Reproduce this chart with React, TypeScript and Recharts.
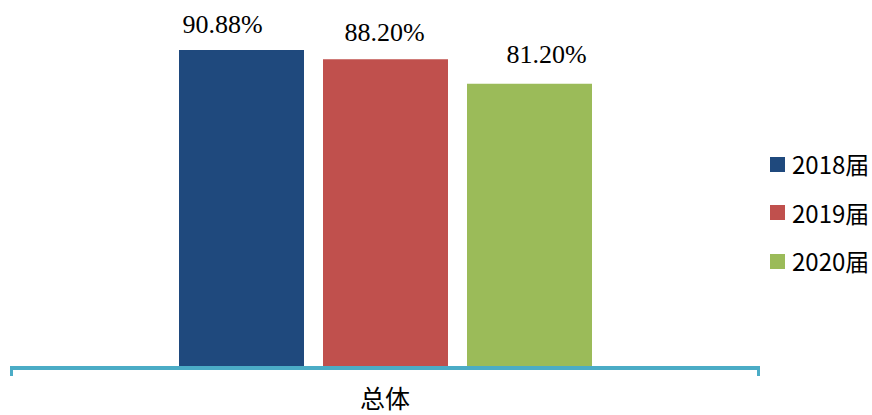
import React from 'react';
import { BarChart, Bar, XAxis, YAxis, Legend, LabelList } from 'recharts';

// 类别与各届数值（%）
const categories = ['总体'];
const seriesNames = ['2018届', '2019届', '2020届'];
const values2018 = [90.88];
const values2019 = [88.2];
const values2020 = [81.2];

const COLORS = ['#1F497D', '#C0504D', '#9BBB59'];
const AXIS_COLOR = '#4BACC6';
const TICK_MARGIN = 22;

const data = categories.map((name, i) => ({
  name,
  s2018: values2018[i],
  s2019: values2019[i],
  s2020: values2020[i],
}));

const seriesKeys = ['s2018', 's2019', 's2020'];
// 标签的水平偏移（与原图一致）
const labelDx = [-19, -1, 17];
const labelOffset = [17, 18, 21];

const LegendContent = () => (
  <div style={{ fontFamily: '"Noto Sans CJK SC", sans-serif', fontSize: 24, color: '#000' }}>
    {seriesNames.map((name, i) => (
      <div key={name} style={{ display: 'flex', alignItems: 'center', height: 48.5 }}>
        <span style={{ width: 15, height: 15, background: COLORS[i], marginRight: 7, display: 'inline-block' }} />
        <span style={{ lineHeight: 1 }}>{name}</span>
      </div>
    ))}
  </div>
);

// 类别标签 + 分类边界处的短竖线
const CategoryTick = (props: any) => {
  const { x, y, payload } = props;
  const half = payload.offset || 0;
  const axisY = y - TICK_MARGIN;
  return (
    <g>
      <line x1={x - half + 1.5} x2={x - half + 1.5} y1={axisY - 2} y2={axisY + 8} stroke={AXIS_COLOR} strokeWidth={3} />
      <line x1={x + half - 1.5} x2={x + half - 1.5} y1={axisY - 2} y2={axisY + 8} stroke={AXIS_COLOR} strokeWidth={3} />
      <text
        x={x}
        y={y}
        dy="0.71em"
        textAnchor="middle"
        fill="#000"
        fontSize={25}
        fontFamily={'"Noto Sans CJK SC", sans-serif'}
      >
        {payload.value}
      </text>
    </g>
  );
};

const App = () => {
  return (
    <div style={{ position: 'absolute', left: 0, top: 0, width: 872, height: 415, background: '#fff' }}>
      <BarChart
        width={872}
        height={415}
        data={data}
        margin={{ top: 18, right: 2, bottom: 0, left: 10 }}
        barSize={125}
        barGap={19}
      >
        <XAxis
          dataKey="name"
          height={47}
          axisLine={{ stroke: AXIS_COLOR, strokeWidth: 4 }}
          tickLine={false}
          tickSize={0}
          tickMargin={TICK_MARGIN}
          tick={<CategoryTick />}
        />
        <YAxis hide domain={[0, 100]} />
        <Legend
          layout="vertical"
          align="right"
          verticalAlign="middle"
          content={<LegendContent />}
          wrapperStyle={{ left: 770, top: 140, width: 110 }}
        />
        {seriesKeys.map((key, i) => (
          <Bar
            key={key}
            dataKey={key}
            name={seriesNames[i]}
            fill={COLORS[i]}
            isAnimationActive={false}
          >
            <LabelList
              dataKey={key}
              position="top"
              offset={labelOffset[i]}
              dx={labelDx[i]}
              formatter={(v: number) => `${v.toFixed(2)}%`}
              style={{ fill: '#000', fontSize: 26, fontFamily: '"Liberation Serif", "Times New Roman", serif' }}
            />
          </Bar>
        ))}
      </BarChart>
    </div>
  );
};

export default App;
